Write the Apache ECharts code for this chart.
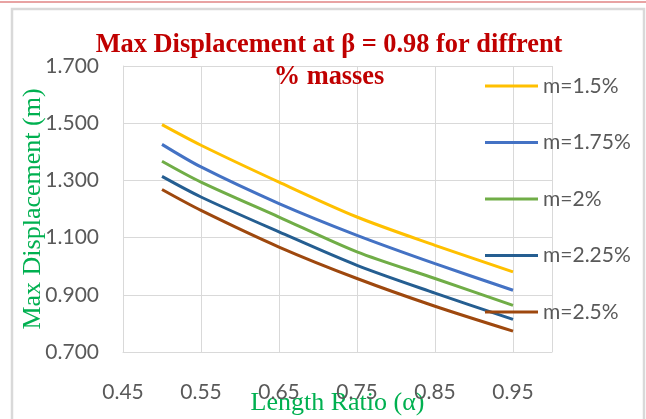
<!DOCTYPE html>
<html>
<head>
<meta charset="utf-8">
<script src="https://cdn.jsdelivr.net/npm/echarts@6/dist/echarts.min.js"></script>
<style>
html,body{margin:0;padding:0;background:#fff;}
#chart{width:646px;height:419px;}
</style>
</head>
<body>
<div id="chart"></div>
<script>
var alphas = [0.50, 0.55, 0.65, 0.75, 0.85, 0.95];
var seriesNames = ['m=1.5%', 'm=1.75%', 'm=2%', 'm=2.25%', 'm=2.5%'];
var m150 = [1.495, 1.423, 1.294, 1.172, 1.073, 0.980];
var m175 = [1.426, 1.347, 1.219, 1.108, 1.009, 0.916];
var m200 = [1.367, 1.294, 1.172, 1.050, 0.957, 0.863];
var m225 = [1.314, 1.242, 1.120, 1.003, 0.906, 0.814];
var m250 = [1.268, 1.195, 1.067, 0.957, 0.860, 0.773];
var colors = ['#FFC000', '#4472C4', '#70AD47', '#255E91', '#9E480E'];
var values = [m150, m175, m200, m225, m250];

function pairs(v){ return alphas.map(function(a,i){ return [a, v[i]]; }); }

var chart = echarts.init(document.getElementById('chart'));
chart.setOption({
  animation: false,
  backgroundColor: '#fff',
  title: {
    text: 'Max Displacement at β = 0.98 for diffrent\n% masses',
    left: 329, top: 29, textAlign: 'center', padding: 0,
    textStyle: { fontFamily: 'Liberation Serif', fontWeight: 'bold', fontSize: 26.4, color: '#C00000', lineHeight: 32 }
  },
  graphic: [
    { type: 'line', shape: { x1: 0, y1: 2, x2: 646, y2: 2 }, style: { stroke: '#E8A3A3', lineWidth: 2 } },
    { type: 'rect', shape: { x: 12, y: 9, width: 632, height: 420 }, style: { fill: 'none', stroke: '#D9D9D9', lineWidth: 2.5 } }
  ],
  grid: { left: 123, right: 94, top: 66, bottom: 67, containLabel: false, outerBoundsMode: 'none' },
  legend: {
    orient: 'vertical', left: 485, top: 75.5, padding: 0,
    itemWidth: 53, itemHeight: 3, itemGap: 35.5,
    icon: 'rect',
    textStyle: { fontFamily: 'Lato', fontSize: 21, color: '#595959' },
    data: seriesNames
  },
  xAxis: {
    type: 'value', min: 0.45, max: 1.0, interval: 0.1,
    name: 'Length Ratio (α)', nameLocation: 'middle', nameGap: 38, nameMoveOverlap: false,
    nameTextStyle: { fontFamily: 'Liberation Serif', fontSize: 26, color: '#00B050' },
    axisLine: { show: true, lineStyle: { color: '#D9D9D9', width: 1 } },
    axisTick: { show: false },
    splitLine: { show: true, lineStyle: { color: '#D9D9D9', width: 1 } },
    axisLabel: { margin: 30, fontFamily: 'Lato', fontSize: 21, color: '#595959',
      formatter: function(v){ return v.toFixed(2); }, showMaxLabel: false }
  },
  yAxis: {
    type: 'value', min: 0.7, max: 1.7, interval: 0.2,
    name: 'Max Displacement (m)', nameLocation: 'middle', nameGap: 77, nameMoveOverlap: false,
    nameTextStyle: { fontFamily: 'Liberation Serif', fontSize: 26, color: '#00B050' },
    axisLine: { show: true, lineStyle: { color: '#D9D9D9', width: 1 } },
    axisTick: { show: false },
    splitLine: { show: true, lineStyle: { color: '#D9D9D9', width: 1 } },
    axisLabel: { margin: 24, fontFamily: 'Lato', fontSize: 21, color: '#595959',
      formatter: function(v){ return v.toFixed(3); } }
  },
  series: seriesNames.map(function(n, i){
    return {
      name: n, type: 'line', data: pairs(values[i]), smooth: 0.3,
      showSymbol: false, symbol: 'none',
      lineStyle: { color: colors[i], width: 3 }, itemStyle: { color: colors[i] }
    };
  })
});
</script>
</body>
</html>
